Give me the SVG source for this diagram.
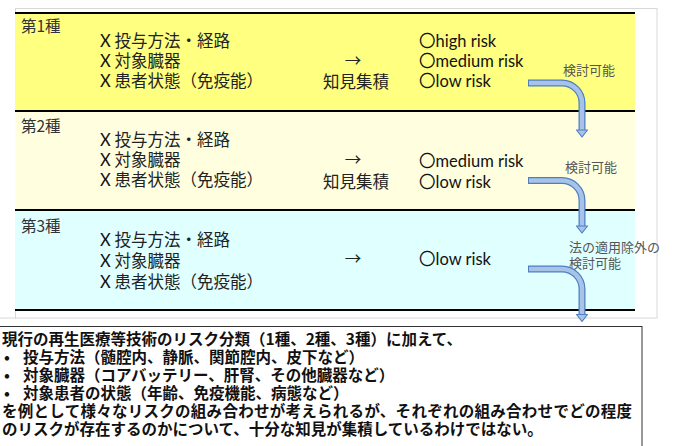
<svg xmlns="http://www.w3.org/2000/svg" width="676" height="446" viewBox="0 0 676 446">
<style>
.jp{font-family:"Noto Sans CJK JP","Noto Sans",sans-serif;fill:#222}
.lat{font-family:Lato,"Noto Sans CJK JP",sans-serif;fill:#111}
.cls{font-size:15.5px;fill:#333}
.it{font-size:16.5px}
.risk{font-size:16.5px}
.note{font-size:13px;fill:#555}
.b{font-family:"Noto Sans CJK JP","Noto Sans",sans-serif;font-size:15.5px;font-weight:bold;fill:#111}
.sep{stroke:#000;stroke-width:2}
.frame{fill:none;stroke:#d8d8d8;stroke-width:1}
.sh1{fill:none;stroke:#4f7fc0;stroke-width:7}
.sh2{fill:none;stroke:#a7c3ea;stroke-width:4.5}
.hd{fill:#a7c3ea;stroke:#4f7fc0;stroke-width:1.2;stroke-linejoin:round}
</style>
<rect x="0" y="0" width="676" height="446" fill="#fff"/>
<rect class="frame" x="15.5" y="8.5" width="641.5" height="309.5"/>
<line class="frame" x1="0" y1="318" x2="16" y2="318"/>

<g id="band1">
<rect x="15" y="13" width="620" height="98" fill="#ffff80"/>
<text class="jp cls" x="21" y="32">第1種</text>
<text class="jp it" x="100" y="47"><tspan class="lat">X</tspan> 投与方法・経路</text>
<text class="jp it" x="100" y="67"><tspan class="lat">X</tspan> 対象臓器</text>
<text class="jp it" x="100" y="87"><tspan class="lat">X</tspan> 患者状態（免疫能）</text>
<text class="jp it" x="353" y="67" text-anchor="middle">→</text>
<text class="jp it" x="356" y="88" text-anchor="middle">知見集積</text>
<text class="lat risk" x="419" y="47">〇high risk</text>
<text class="lat risk" x="419" y="67">〇medium risk</text>
<text class="lat risk" x="419" y="87">〇low risk</text>
<text class="jp note" x="563" y="75">検討可能</text>
</g>

<g id="band2">
<rect x="15" y="111" width="620" height="99" fill="#ffffe0"/>
<text class="jp cls" x="21" y="132">第2種</text>
<text class="jp it" x="100" y="146"><tspan class="lat">X</tspan> 投与方法・経路</text>
<text class="jp it" x="100" y="166"><tspan class="lat">X</tspan> 対象臓器</text>
<text class="jp it" x="100" y="186"><tspan class="lat">X</tspan> 患者状態（免疫能）</text>
<text class="jp it" x="353" y="166" text-anchor="middle">→</text>
<text class="jp it" x="356" y="188" text-anchor="middle">知見集積</text>
<text class="lat risk" x="419" y="167">〇medium risk</text>
<text class="lat risk" x="419" y="188">〇low risk</text>
<text class="jp note" x="565" y="172">検討可能</text>
</g>

<g id="band3">
<rect x="15" y="210" width="620" height="100" fill="#e0ffff"/>
<text class="jp cls" x="21" y="232">第3種</text>
<text class="jp it" x="100" y="246"><tspan class="lat">X</tspan> 投与方法・経路</text>
<text class="jp it" x="100" y="267"><tspan class="lat">X</tspan> 対象臓器</text>
<text class="jp it" x="100" y="288"><tspan class="lat">X</tspan> 患者状態（免疫能）</text>
<text class="jp it" x="353" y="265" text-anchor="middle">→</text>
<text class="lat risk" x="419" y="265">〇low risk</text>
<text class="jp note" x="569" y="252">法の適用除外の<tspan x="569" y="268">検討可能</tspan></text>
</g>

<g id="separators">
<line class="sep" x1="15" y1="13" x2="635" y2="13"/>
<line class="sep" x1="15" y1="111" x2="635" y2="111"/>
<line class="sep" x1="15" y1="210" x2="635" y2="210"/>
<line class="sep" x1="15" y1="310" x2="635" y2="310"/>
</g>

<g id="connectors">
<path class="sh1" d="M528,83 H562 A20,20 0 0 1 582,103 V131"/>
<path class="sh2" d="M529,83 H562 A20,20 0 0 1 582,103 V132"/>
<polygon class="hd" points="576.5,130 587.5,130 582,137"/>
<path class="sh1" d="M528,180.5 H562 A20,20 0 0 1 582,200.5 V227"/>
<path class="sh2" d="M529,180.5 H562 A20,20 0 0 1 582,200.5 V228"/>
<polygon class="hd" points="576.5,226 587.5,226 582,233"/>
<path class="sh1" d="M528,269 H562 A20,20 0 0 1 582,289 V315"/>
<path class="sh2" d="M529,269 H562 A20,20 0 0 1 582,289 V316"/>
<polygon class="hd" points="576.5,314.5 587.5,314.5 582,321.5"/>
</g>

<g id="summary">
<rect x="-1" y="326.5" width="643" height="130" fill="#fff" stroke="#333" stroke-width="1"/>
<text class="b" x="2" y="345">現行の再生医療等技術のリスク分類（1種、2種、3種）に加えて、<tspan x="4" y="363">•</tspan><tspan x="23" y="363">投与方法（髄腔内、静脈、関節腔内、皮下など）</tspan><tspan x="4" y="381">•</tspan><tspan x="23" y="381">対象臓器（コアバッテリー、肝腎、その他臓器など）</tspan><tspan x="4" y="399">•</tspan><tspan x="23" y="399">対象患者の状態（年齢、免疫機能、病態など）</tspan><tspan x="2" y="417" textLength="630" lengthAdjust="spacing">を例として様々なリスクの組み合わせが考えられるが、それぞれの組み合わせでどの程度</tspan><tspan x="2" y="435">のリスクが存在するのかについて、十分な知見が集積しているわけではない。</tspan></text>
</g>
</svg>
